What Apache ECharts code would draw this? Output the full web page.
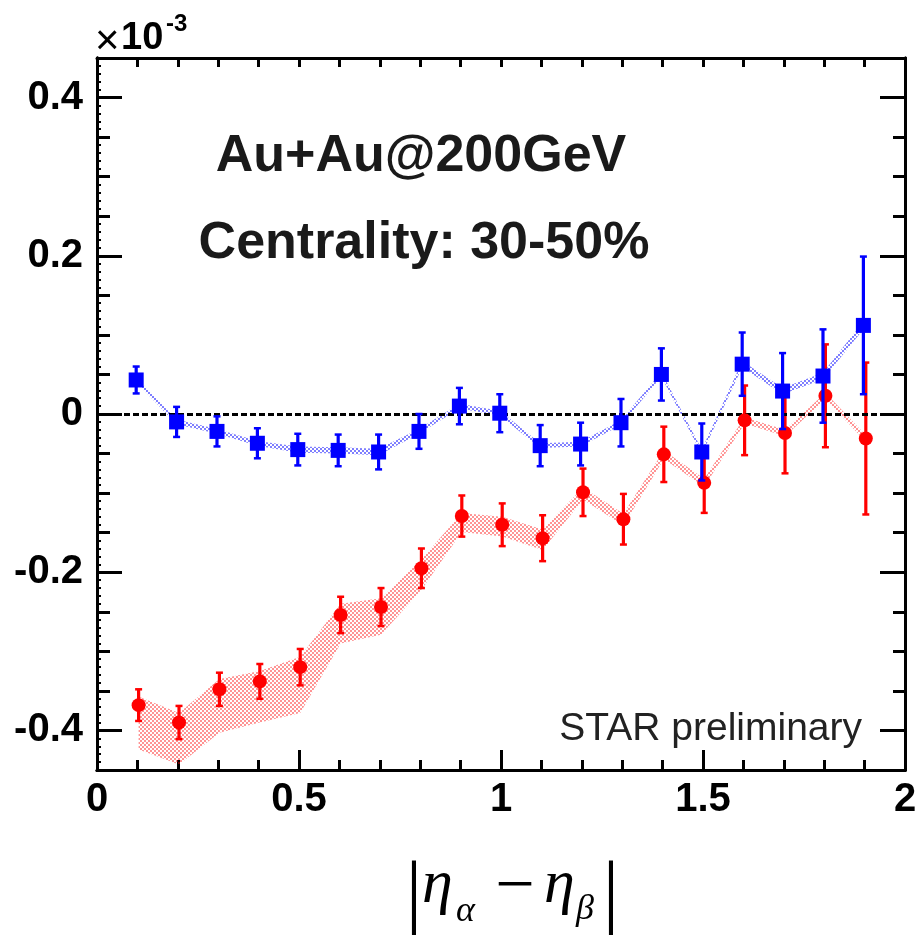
<!DOCTYPE html>
<html>
<head>
<meta charset="utf-8">
<script src="https://cdn.jsdelivr.net/npm/echarts@6/dist/echarts.min.js"></script>
<style>
html,body{margin:0;padding:0;background:#fff;}
#chart{width:921px;height:935px;}
</style>
</head>
<body>
<div id="chart"></div>
<script>
// ---- data (values in units of 1e-3) ----
const blueX = [0.097, 0.197, 0.297, 0.397, 0.497, 0.597, 0.697, 0.797, 0.897, 0.997, 1.097, 1.197, 1.297, 1.397, 1.497, 1.597, 1.697, 1.797, 1.897];
const blueY = [0.043, -0.010, -0.022, -0.037, -0.045, -0.046, -0.048, -0.022, 0.010, 0.001, -0.040, -0.038, -0.011, 0.050, -0.048, 0.063, 0.029, 0.048, 0.112];
const blueErr = [0.017, 0.019, 0.019, 0.019, 0.020, 0.020, 0.022, 0.022, 0.023, 0.024, 0.026, 0.027, 0.030, 0.033, 0.036, 0.040, 0.048, 0.059, 0.087];
const blueSysLo = [0.040, -0.013, -0.025, -0.040, -0.049, -0.050, -0.052, -0.025, 0.007, -0.002, -0.043, -0.041, -0.014, 0.047, -0.051, 0.059, 0.025, 0.044, 0.107];
const blueSysHi = [0.046, -0.007, -0.019, -0.034, -0.041, -0.042, -0.044, -0.019, 0.013, 0.004, -0.037, -0.035, -0.008, 0.053, -0.045, 0.067, 0.033, 0.052, 0.117];

const redX = [0.103, 0.203, 0.303, 0.403, 0.503, 0.603, 0.703, 0.803, 0.903, 1.003, 1.103, 1.203, 1.303, 1.403, 1.503, 1.603, 1.703, 1.803, 1.903];
const redY = [-0.368, -0.390, -0.348, -0.338, -0.320, -0.254, -0.244, -0.195, -0.129, -0.140, -0.157, -0.099, -0.133, -0.051, -0.087, -0.008, -0.024, 0.023, -0.031];
const redErr = [0.020, 0.021, 0.021, 0.022, 0.023, 0.023, 0.024, 0.025, 0.026, 0.027, 0.029, 0.030, 0.032, 0.035, 0.038, 0.044, 0.051, 0.065, 0.096];
const redSysLo = [-0.424, -0.443, -0.403, -0.390, -0.378, -0.290, -0.279, -0.222, -0.149, -0.155, -0.172, -0.108, -0.141, -0.057, -0.092, -0.012, -0.028, 0.019, -0.035];
const redSysHi = [-0.357, -0.378, -0.335, -0.325, -0.307, -0.240, -0.233, -0.184, -0.125, -0.130, -0.146, -0.093, -0.126, -0.046, -0.082, -0.004, -0.020, 0.027, -0.027];

const xTickLabels = [0, 0.5, 1, 1.5, 2];
const yTickLabels = [-0.4, -0.2, 0, 0.2, 0.4];
const yMinorTicks = [-0.45, -0.4, -0.35, -0.3, -0.25, -0.2, -0.15, -0.1, -0.05, 0, 0.05, 0.1, 0.15, 0.2, 0.25, 0.3, 0.35, 0.4, 0.45];
const yTinyTicks = [];
for (let k = -45; k <= 45; k++) yTinyTicks.push(k / 100);

// ---- styling helpers ----
function makePattern(color) {
  const c = document.createElement('canvas');
  c.width = 4; c.height = 4;
  const ctx = c.getContext('2d');
  ctx.fillStyle = color;
  ctx.fillRect(0, 0, 2, 2);
  ctx.fillRect(2, 2, 2, 2);
  return { image: c, repeat: 'repeat' };
}
const redPattern = makePattern('rgba(255,0,0,0.42)');
const bluePattern = makePattern('rgba(0,0,255,0.5)');

function bandData(xs, lo, hi) {
  const out = [];
  for (let i = 0; i < xs.length - 1; i++) {
    out.push([xs[i], lo[i], hi[i], xs[i + 1], lo[i + 1], hi[i + 1]]);
  }
  return out;
}
function bandSeries(xs, lo, hi, pattern, z) {
  return {
    type: 'custom', xAxisIndex: 0, yAxisIndex: 0, z: z, silent: true,
    data: bandData(xs, lo, hi),
    encode: { x: [0, 3], y: [1, 2, 4, 5] },
    renderItem: function (params, api) {
      const a = api.coord([api.value(0), api.value(2)]);
      const b = api.coord([api.value(3), api.value(5)]);
      const c = api.coord([api.value(3), api.value(4)]);
      const d = api.coord([api.value(0), api.value(1)]);
      return { type: 'polygon', shape: { points: [a, b, c, d] }, style: { fill: pattern, stroke: null } };
    }
  };
}
function errSeries(xs, ys, es, color, z) {
  return {
    type: 'custom', xAxisIndex: 0, yAxisIndex: 0, z: z, silent: true,
    data: xs.map((x, i) => [x, ys[i], es[i]]),
    encode: { x: 0, y: 1 },
    renderItem: function (params, api) {
      const x = api.value(0), y = api.value(1), e = api.value(2);
      const t = api.coord([x, y + e]);
      const b = api.coord([x, y - e]);
      const cw = 3.5;
      return {
        type: 'group', children: [
          { type: 'line', shape: { x1: t[0], y1: t[1], x2: b[0], y2: b[1] }, style: { stroke: color, lineWidth: 3.2 } },
          { type: 'line', shape: { x1: t[0] - cw, y1: t[1], x2: t[0] + cw, y2: t[1] }, style: { stroke: color, lineWidth: 2.5 } },
          { type: 'line', shape: { x1: b[0] - cw, y1: b[1], x2: b[0] + cw, y2: b[1] }, style: { stroke: color, lineWidth: 2.5 } }
        ]
      };
    }
  };
}

const FONT = "'Liberation Sans', Arial, sans-serif";
const SERIF = "'Liberation Serif', 'Times New Roman', serif";
const axisLineStyle = { show: true, onZero: false, lineStyle: { color: '#000', width: 3 } };

function yAx(pos, ticks, len, width, labels) {
  return {
    type: 'value', position: pos, min: -0.45, max: 0.45,
    axisLine: axisLineStyle,
    axisTick: { show: true, inside: true, length: len, customValues: ticks, lineStyle: { color: '#000', width: width } },
    axisLabel: labels ? {
      show: true, customValues: labels, margin: 14, color: '#000',
      fontFamily: FONT, fontWeight: 'bold', fontSize: 40,
      formatter: v => String(Math.round(v * 10) / 10)
    } : { show: false },
    splitLine: { show: false }
  };
}
function xAx(pos, interval, len, labels) {
  return {
    type: 'value', position: pos, min: 0, max: 2, interval: interval,
    axisLine: axisLineStyle,
    axisTick: { show: true, inside: true, length: len, lineStyle: { color: '#000', width: 3 } },
    axisLabel: labels ? {
      show: true, margin: 10, color: '#000', customValues: labels,
      fontFamily: FONT, fontWeight: 'bold', fontSize: 40,
      formatter: v => String(v)
    } : { show: false },
    splitLine: { show: false }
  };
}

const chart = echarts.init(document.getElementById('chart'), null, { renderer: 'canvas' });
chart.setOption({
  animation: false,
  backgroundColor: '#fff',
  grid: { left: 97, right: 16, top: 58, bottom: 165, containLabel: false, outerBoundsMode: 'none' },
  xAxis: [
    xAx('bottom', 0.5, 20, xTickLabels),
    xAx('bottom', 0.1, 10, null),
    xAx('top', 0.1, 9, null)
  ],
  yAxis: [
    yAx('left', yTickLabels, 25, 3, yTickLabels),
    yAx('left', yMinorTicks, 13, 3, null),
    yAx('left', yTinyTicks, 4, 2, null),
    yAx('right', yTickLabels, 25, 3, null),
    yAx('right', yMinorTicks, 12, 3, null)
  ],
  series: [
    bandSeries(redX, redSysLo, redSysHi, redPattern, 2),
    bandSeries(blueX, blueSysLo, blueSysHi, bluePattern, 2),
    {
      type: 'line', xAxisIndex: 0, yAxisIndex: 0, data: [], silent: true, z: 3,
      markLine: {
        silent: true, symbol: ['none', 'none'], label: { show: false },
        lineStyle: { color: '#000', width: 3, type: [6, 3] },
        data: [{ yAxis: 0 }]
      }
    },
    errSeries(redX, redY, redErr, '#ff0000', 4),
    {
      type: 'scatter', xAxisIndex: 0, yAxisIndex: 0, z: 5, silent: true,
      symbol: 'circle', symbolSize: 14, itemStyle: { color: '#ff0000', opacity: 1 },
      data: redX.map((x, i) => [x, redY[i]])
    },
    errSeries(blueX, blueY, blueErr, '#0000ff', 6),
    {
      type: 'scatter', xAxisIndex: 0, yAxisIndex: 0, z: 7, silent: true,
      symbol: 'rect', symbolSize: 15, itemStyle: { color: '#0000ff', opacity: 1 },
      data: blueX.map((x, i) => [x, blueY[i]])
    }
  ],
  graphic: [
    { type: 'text', x: 95, y: 42, style: { text: '×', font: "normal 42px " + FONT, fill: '#000', align: 'left', verticalAlign: 'middle' } },
    { type: 'text', x: 121, y: 39, style: { text: '10', font: "bold 38px " + FONT, fill: '#000', align: 'left', verticalAlign: 'middle' } },
    { type: 'text', x: 166, y: 24, style: { text: '-3', font: "bold 24px " + FONT, fill: '#000', align: 'left', verticalAlign: 'middle' } },
    { type: 'text', x: 421, y: 157, style: { text: 'Au+Au@200GeV', font: "bold 52px " + FONT, fill: '#1a1a1a', align: 'center', verticalAlign: 'middle' } },
    { type: 'text', x: 424, y: 244, style: { text: 'Centrality: 30-50%', font: "bold 52px " + FONT, fill: '#1a1a1a', align: 'center', verticalAlign: 'middle' } },
    { type: 'text', x: 862, y: 729, style: { text: 'STAR preliminary', font: "normal 39px " + FONT, fill: '#222', align: 'right', verticalAlign: 'middle' } },
    { type: 'text', x: 414, y: 896, style: { text: '|', font: "normal 82px " + SERIF, fill: '#000', align: 'center', verticalAlign: 'middle' } },
    { type: 'text', x: 422, y: 886, style: { text: 'η', font: "italic 62px " + SERIF, fill: '#000', align: 'left', verticalAlign: 'middle' } },
    { type: 'text', x: 456, y: 912, style: { text: 'α', font: "italic 36px " + SERIF, fill: '#000', align: 'left', verticalAlign: 'middle' } },
    { type: 'text', x: 515, y: 889, style: { text: '−', font: "normal 70px " + SERIF, fill: '#000', align: 'center', verticalAlign: 'middle' } },
    { type: 'text', x: 544, y: 886, style: { text: 'η', font: "italic 62px " + SERIF, fill: '#000', align: 'left', verticalAlign: 'middle' } },
    { type: 'text', x: 576, y: 910, style: { text: 'β', font: "italic 36px " + SERIF, fill: '#000', align: 'left', verticalAlign: 'middle' } },
    { type: 'text', x: 611, y: 896, style: { text: '|', font: "normal 82px " + SERIF, fill: '#000', align: 'center', verticalAlign: 'middle' } }
  ]
});
</script>
</body>
</html>
